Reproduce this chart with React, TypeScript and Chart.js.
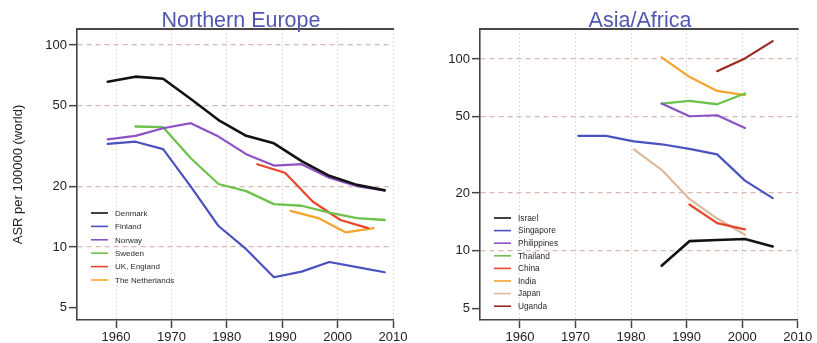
import React, { useEffect, useRef } from "react";
import { Chart, registerables } from "chart.js";

Chart.register(...registerables);
Chart.defaults.font.family = "'Liberation Sans', Arial, Helvetica, sans-serif";

// ---------- data ----------
const Y_TICKS = [5, 10, 20, 50, 100];
const X_TICKS = [1960, 1970, 1980, 1990, 2000, 2010];

// Northern Europe
const NE_YEARS = [1958.5, 1963.5, 1968.5, 1973.5, 1978.5, 1983.5, 1988.5, 1993.5, 1998.5, 2003.5, 2008.5];
const SWEDEN_YEARS = [1963.5, 1968.5, 1973.5, 1978.5, 1983.5, 1988.5, 1993.5, 1998.5, 2003.5, 2008.5];
const UK_YEARS = [1985.5, 1990.5, 1995.5, 2000.5, 2005.5];
const NL_YEARS = [1991.5, 1996.5, 2001.5, 2006.5];

const DENMARK = [65.8, 69.7, 68.1, 54.0, 42.5, 35.5, 32.6, 26.6, 22.5, 20.3, 19.1];
const FINLAND = [32.4, 33.2, 30.5, 19.9, 12.7, 9.75, 7.08, 7.55, 8.43, 7.95, 7.5];
const NORWAY = [34.1, 35.5, 38.7, 41.0, 35.2, 28.8, 25.3, 25.7, 22.0, 20.0, 19.0];
const SWEDEN = [39.5, 39.2, 27.5, 20.5, 18.9, 16.3, 16.0, 14.8, 13.9, 13.6];
const UK_ENGLAND = [25.7, 23.3, 16.8, 13.6, 12.4];
const NETHERLANDS = [15.1, 13.9, 11.8, 12.4];

// Asia / Africa
const ISRAEL_YEARS = [1985.5, 1990.5, 1995.5, 2000.5, 2005.5];
const SINGAPORE_YEARS = [1970.5, 1975.5, 1980.5, 1985.5, 1990.5, 1995.5, 2000.5, 2005.5];
const P85_00_YEARS = [1985.5, 1990.5, 1995.5, 2000.5];
const CHINA_YEARS = [1990.5, 1995.5, 2000.5];
const JAPAN_YEARS = [1980.5, 1985.5, 1990.5, 1995.5, 2000.5];
const UGANDA_YEARS = [1995.5, 2000.5, 2005.5];

const ISRAEL = [8.34, 11.2, 11.35, 11.5, 10.5];
const SINGAPORE = [39.7, 39.7, 37.2, 35.9, 34.0, 31.8, 23.2, 18.8];
const PHILIPPINES = [58.6, 50.3, 50.9, 43.7];
const THAILAND = [58.6, 60.5, 58.1, 66.1];
const CHINA = [17.4, 13.9, 12.9];
const INDIA = [102, 80.8, 68.2, 64.8];
const JAPAN = [33.8, 26.4, 18.6, 14.7, 12.1];
const UGANDA = [86.5, 100.8, 124.2];

// ---------- colours ----------
const C_BLACK = "#121212";
const C_BLUE = "#4a51c0";
const C_PURPLE = "#8c52c6";
const C_GREEN = "#6cc24c";
const C_RED = "#e8462c";
const C_ORANGE = "#f5a52c";
const C_TAN = "#dcbaa0";
const C_DARKRED = "#9a2b1e";
const C_TITLE = "#5158b2";

const pts = (years: number[], vals: number[]) => years.map((x, i) => ({ x, y: vals[i] }));

type Series = { label: string; years: number[]; values: number[]; color: string; width: number };

const NE_SERIES: Series[] = [
  { label: "Denmark", years: NE_YEARS, values: DENMARK, color: C_BLACK, width: 2.6 },
  { label: "Finland", years: NE_YEARS, values: FINLAND, color: C_BLUE, width: 2.2 },
  { label: "Norway", years: NE_YEARS, values: NORWAY, color: C_PURPLE, width: 2.2 },
  { label: "Sweden", years: SWEDEN_YEARS, values: SWEDEN, color: C_GREEN, width: 2.3 },
  { label: "UK, England", years: UK_YEARS, values: UK_ENGLAND, color: C_RED, width: 2.2 },
  { label: "The Netherlands", years: NL_YEARS, values: NETHERLANDS, color: C_ORANGE, width: 2.2 },
];

const AA_SERIES: Series[] = [
  { label: "Israel", years: ISRAEL_YEARS, values: ISRAEL, color: C_BLACK, width: 2.6 },
  { label: "Singapore", years: SINGAPORE_YEARS, values: SINGAPORE, color: C_BLUE, width: 2.2 },
  { label: "Philippines", years: P85_00_YEARS, values: PHILIPPINES, color: C_PURPLE, width: 2.2 },
  { label: "Thailand", years: P85_00_YEARS, values: THAILAND, color: C_GREEN, width: 2.3 },
  { label: "China", years: CHINA_YEARS, values: CHINA, color: C_RED, width: 2.2 },
  { label: "India", years: P85_00_YEARS, values: INDIA, color: C_ORANGE, width: 2.2 },
  { label: "Japan", years: JAPAN_YEARS, values: JAPAN, color: C_TAN, width: 2.2 },
  { label: "Uganda", years: UGANDA_YEARS, values: UGANDA, color: C_DARKRED, width: 2.2 },
];

type PanelProps = {
  left: number;
  width: number;
  height: number;
  series: Series[];
  title: string;
  titleX: number;
  yTitle?: string;
  axisWidth: number;
  padRight: number;
  xMin: number;
  xMax: number;
  yMin: number;
  yMax: number;
  legendX: number;
  legendY: number;
  legendStep: number;
  legendFont: number;
};

function Panel(p: PanelProps) {
  const ref = useRef<HTMLCanvasElement | null>(null);

  useEffect(() => {
    if (!ref.current) return;

    const overlay = {
      id: "overlay",
      afterDraw(chart: any) {
        const { ctx, chartArea } = chart;
        ctx.save();
        // top frame line
        ctx.strokeStyle = "#474747";
        ctx.lineWidth = 1.8;
        ctx.beginPath();
        ctx.moveTo(chartArea.left - 0.8, chartArea.top);
        ctx.lineTo(chartArea.right + 1, chartArea.top);
        ctx.stroke();
        // title
        ctx.fillStyle = C_TITLE;
        ctx.font = "21.5px 'Liberation Sans', Arial, sans-serif";
        ctx.textAlign = "center";
        ctx.textBaseline = "alphabetic";
        ctx.fillText(p.title, p.titleX, 26.7);
        // legend
        ctx.font = `${p.legendFont}px 'Liberation Sans', Arial, sans-serif`;
        ctx.textAlign = "left";
        ctx.textBaseline = "middle";
        p.series.forEach((s, i) => {
          const y = p.legendY + i * p.legendStep;
          ctx.strokeStyle = s.color;
          ctx.lineWidth = 1.6;
          ctx.beginPath();
          ctx.moveTo(p.legendX, y);
          ctx.lineTo(p.legendX + 17, y);
          ctx.stroke();
          ctx.fillStyle = "#2a2a2a";
          ctx.fillText(s.label, p.legendX + 24, y + 0.5);
        });
        ctx.restore();
      },
    };

    const chart = new Chart(ref.current, {
      type: "line",
      data: {
        datasets: p.series.map((s) => ({
          label: s.label,
          data: pts(s.years, s.values),
          borderColor: s.color,
          backgroundColor: s.color,
          borderWidth: s.width,
          pointRadius: 0,
          fill: false,
          tension: 0,
          borderCapStyle: "round",
          borderJoinStyle: "round",
        })),
      },
      options: {
        responsive: false,
        animation: false,
        events: [],
        layout: { padding: { top: 29, right: p.padRight, left: 0, bottom: 0 } },
        plugins: { legend: { display: false }, tooltip: { enabled: false }, title: { display: false } },
        scales: {
          x: {
            type: "linear",
            min: p.xMin,
            max: p.xMax,
            afterBuildTicks: (s: any) => {
              s.ticks = X_TICKS.map((v) => ({ value: v }));
            },
            afterFit: (s: any) => {
              s.height = 23;
            },
            ticks: {
              autoSkip: false,
              maxRotation: 0,
              minRotation: 0,
              padding: 2,
              color: "#222",
              font: { size: 13 },
              callback: (v: any) => String(v),
            },
            grid: {
              color: "#d4d4d4",
              lineWidth: 1,
              tickColor: "#444",
              tickWidth: 1.5,
              tickLength: 8,
              tickBorderDash: [],
            },
            border: { display: true, color: "#444", width: 1.6, dash: [1.5, 2.5] },
          },
          y: {
            type: "logarithmic",
            min: p.yMin,
            max: p.yMax,
            afterBuildTicks: (s: any) => {
              s.ticks = Y_TICKS.map((v) => ({ value: v }));
            },
            afterFit: (s: any) => {
              s.width = p.axisWidth;
            },
            ticks: {
              autoSkip: false,
              padding: 2,
              color: "#222",
              font: { size: 13 },
              callback: (v: any) => String(v),
            },
            grid: {
              color: (c: any) => (c.tick && c.tick.value === 5 ? "rgba(0,0,0,0)" : "#d6bab1"),
              lineWidth: 1.3,
              tickColor: "#444",
              tickWidth: 1.5,
              tickLength: 8,
              tickBorderDash: [],
            },
            border: { display: true, color: "#444", width: 1.6, dash: [5, 4] },
            title: {
              display: !!p.yTitle,
              text: p.yTitle || "",
              color: "#222",
              font: { size: 13 },
              padding: { top: 11, bottom: 0 },
            },
          },
        },
      },
      plugins: [overlay],
    } as any);

    return () => chart.destroy();
  }, []);

  return (
    <canvas
      ref={ref}
      width={p.width}
      height={p.height}
      style={{ position: "absolute", left: p.left, top: 0, width: p.width, height: p.height, display: "block" }}
    />
  );
}

export default function App() {
  return (
    <div style={{ position: "absolute", left: 0, top: 0, width: 817, height: 343, background: "#fff", overflow: "hidden" }}>
      <Panel
        left={0}
        width={410}
        height={343}
        series={NE_SERIES}
        title="Northern Europe"
        titleX={241}
        yTitle="ASR per 100000 (world)"
        axisWidth={77}
        padRight={17}
        xMin={1952.95}
        xMax={2010}
        yMin={4.35}
        yMax={120}
        legendX={91}
        legendY={213}
        legendStep={13.4}
        legendFont={8}
      />
      <Panel
        left={410}
        width={407}
        height={343}
        series={AA_SERIES}
        title="Asia/Africa"
        titleX={230}
        axisWidth={70}
        padRight={19.3}
        xMin={1952.8}
        xMax={2010}
        yMin={4.34}
        yMax={143.6}
        legendX={84}
        legendY={218}
        legendStep={12.6}
        legendFont={8.3}
      />
    </div>
  );
}
